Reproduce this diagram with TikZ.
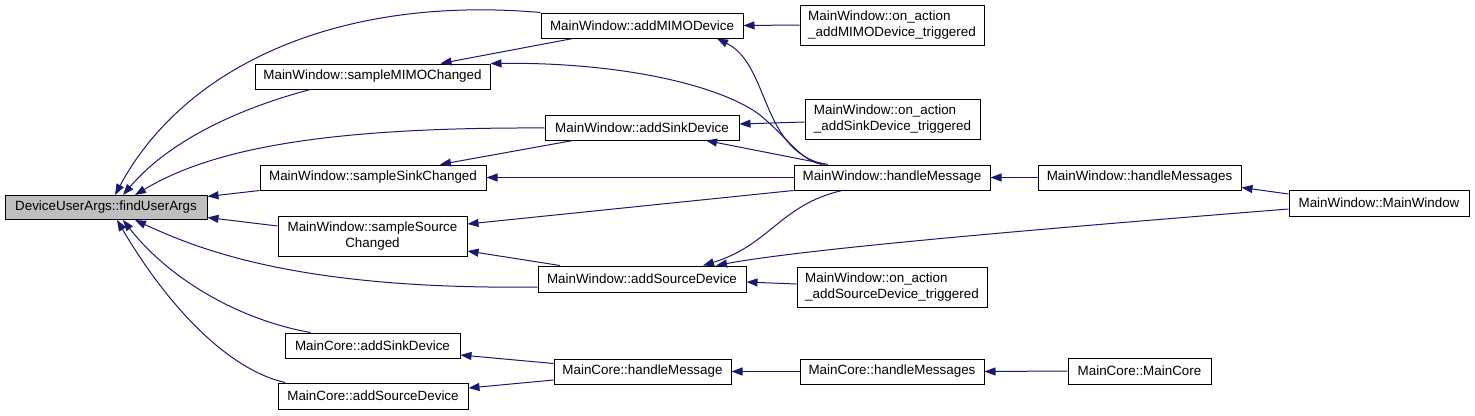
\documentclass[tikz,border=0pt]{standalone}
\usepackage{fontspec}
\setmainfont{Liberation Sans}
\usetikzlibrary{arrows.meta}
\definecolor{edgecol}{HTML}{191970}
\definecolor{rootfill}{HTML}{BFBFBF}
\begin{document}
\begin{tikzpicture}[x=1pt,y=-1pt,
  box/.style={draw=black, line width=1pt, fill=white, inner sep=0pt,
    font=\fontsize{13.4}{15.5}\selectfont},
  edge/.style={draw=edgecol, line width=1pt, -{Triangle[length=11pt,width=8pt]}}]
\useasboundingbox (0,0) rectangle (1475,415);
% nodes
\node[box, fill=rootfill, minimum width=202pt, minimum height=24pt] (find) at (106,207.5) {DeviceUserArgs::findUserArgs};
\node[box, minimum width=235pt, minimum height=25pt] (sMIMO) at (372.5,76.5) {MainWindow::sampleMIMOChanged};
\node[box, minimum width=226pt, minimum height=25pt] (sSink) at (373,177.5) {MainWindow::sampleSinkChanged};
\node[box, minimum width=189pt, minimum height=40pt, align=center] (sSource) at (372.5,236) {MainWindow::sampleSource\\Changed};
\node[box, minimum width=175pt, minimum height=25pt] (cSink) at (372.5,345.5) {MainCore::addSinkDevice};
\node[box, minimum width=190pt, minimum height=26pt] (cSource) at (373,396) {MainCore::addSourceDevice};
\node[box, minimum width=202pt, minimum height=25pt] (addMIMO) at (642,25.5) {MainWindow::addMIMODevice};
\node[box, minimum width=184pt, minimum height=40pt, align=left] (onMIMO) at (892,25) {MainWindow::on\_action\\\_addMIMODevice\_triggered};
\node[box, minimum width=194pt, minimum height=25pt] (addSink) at (642,127.5) {MainWindow::addSinkDevice};
\node[box, minimum width=175pt, minimum height=40pt, align=left] (onSink) at (892.5,119) {MainWindow::on\_action\\\_addSinkDevice\_triggered};
\node[box, minimum width=196pt, minimum height=25pt] (hMsg) at (892,177.5) {MainWindow::handleMessage};
\node[box, minimum width=208pt, minimum height=26pt] (addSource) at (642,279) {MainWindow::addSourceDevice};
\node[box, minimum width=190pt, minimum height=40pt, align=left] (onSource) at (892,287) {MainWindow::on\_action\\\_addSourceDevice\_triggered};
\node[box, minimum width=177pt, minimum height=25pt] (cHMsg) at (642.5,371.5) {MainCore::handleMessage};
\node[box, minimum width=184pt, minimum height=25pt] (cHMsgs) at (892,371.5) {MainCore::handleMessages};
\node[box, minimum width=203pt, minimum height=25pt] (hMsgs) at (1139.5,177.5) {MainWindow::handleMessages};
\node[box, minimum width=180pt, minimum height=26pt] (MW) at (1379,203) {MainWindow::MainWindow};
\node[box, minimum width=143pt, minimum height=26pt] (MC) at (1139.5,371) {MainCore::MainCore};
% edges into findUserArgs
\draw[edge] (addMIMO.north west) .. controls (340,-5) and (185,65) .. ([xshift=9pt]find.north);
\draw[edge] ([xshift=-62pt]sMIMO.south) .. controls (240,108) and (170,140) .. ([xshift=17pt]find.north);
\draw[edge] ([yshift=-0.5pt]addSink.west) .. controls (320,127) and (210,150) .. ([xshift=29pt]find.north);
\draw[edge] (sSink.south west) -- ([yshift=11pt]find.east);
\draw[edge] ([yshift=10pt]sSource.west) -- ([yshift=-10pt]find.east);
\draw[edge] ([yshift=-8pt]addSource.west) .. controls (300,290) and (200,250) .. ([xshift=29pt]find.south);
\draw[edge] ([xshift=-62pt]cSink.north) .. controls (240,320) and (170,280) .. ([xshift=17pt]find.south);
\draw[edge] ([xshift=-88pt]cSource.north) .. controls (230,370) and (170,310) .. ([xshift=11pt]find.south);
% MainWindow edges
\draw[edge] ([xshift=-69pt]addMIMO.south) -- ([xshift=68pt]sMIMO.north);
\draw[edge] ([xshift=-70pt]hMsg.north) .. controls (800,160) and (790,140) .. (760,115) .. controls (720,85) and (620,62) .. ([yshift=13pt]sMIMO.east);
\draw[edge] (onMIMO.west) -- (addMIMO.east);
\draw[edge] ([xshift=-67pt]hMsg.north) .. controls (760,150) and (770,65) .. ([xshift=75pt]addMIMO.south);
\draw[edge] ([xshift=-69pt]addSink.south) -- ([xshift=67pt]sSink.north);
\draw[edge] (hMsg.west) -- (sSink.east);
\draw[edge] ([yshift=-3pt]onSink.west) -- ([yshift=3.5pt]addSink.east);
\draw[edge] ([xshift=-64pt]hMsg.north) -- ([xshift=64pt]addSink.south);
\draw[edge] (hMsg.south west) -- ([yshift=12pt]sSource.east);
\draw[edge] ([xshift=-82pt]addSource.north) -- ([yshift=-15pt]sSource.east);
\draw[edge] (hMsgs.west) -- (hMsg.east);
\draw[edge] ([yshift=9pt]MW.west) -- ([yshift=-10pt]hMsgs.east);
\draw[edge] ([xshift=-50pt]hMsg.south) .. controls (780,205) and (770,245) .. ([xshift=61pt]addSource.north);
\draw[edge] ([yshift=-6pt]MW.west) .. controls (1000,232) and (800,250) .. ([xshift=74pt]addSource.north);
\draw[edge] ([yshift=3pt]onSource.west) -- ([yshift=-3pt]addSource.east);
% MainCore edges
\draw[edge] ([yshift=8pt]cHMsg.west) -- ([yshift=-9.5pt]cSink.east);
\draw[edge] ([yshift=-8.5pt]cHMsg.west) -- ([yshift=8pt]cSource.east);
\draw[edge] (cHMsgs.west) -- (cHMsg.east);
\draw[edge] (MC.west) -- (cHMsgs.east);
\end{tikzpicture}
\end{document}
